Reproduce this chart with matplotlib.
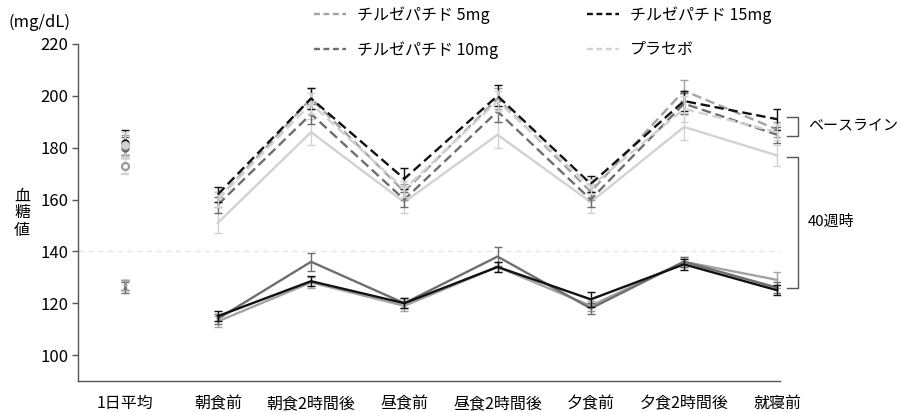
import matplotlib
matplotlib.use("Agg")
import matplotlib.pyplot as plt
from matplotlib.lines import Line2D
import numpy as np

plt.rcParams['font.family'] = ['Noto Sans CJK JP', 'DejaVu Sans']

categories = ['1日平均', '朝食前', '朝食2時間後', '昼食前', '昼食2時間後', '夕食前', '夕食2時間後', '就寝前']
series_names = ['チルゼパチド 5mg', 'チルゼパチド 10mg', 'チルゼパチド 15mg', 'プラセボ']
colors = ['#a3a3a3', '#6e6e6e', '#111111', '#d2d2d2']

# Baseline (dashed)
base_5 = [181, 160, 199, 163, 199, 163, 202, 187]
base_10 = [180, 158, 193, 160, 194, 160, 197, 185]
base_15 = [182, 162, 199, 168, 200, 166, 198, 191]
base_pl = [181, 160, 197, 164, 198, 165, 195, 186]
base_err_5 = [4, 3, 4, 3, 4, 3, 4, 3]
base_err_10 = [4, 3, 4, 3, 4, 3, 4, 3]
base_err_15 = [5, 3, 4, 4, 4, 3, 4, 4]
base_err_pl = [5, 3, 4, 3, 4, 3, 5, 3]

# Week 40 (solid)
wk40_5 = [127, 113, 128, 119, 134, 119, 136, 129]
wk40_10 = [126, 114, 136, 120, 138, 118, 136, 126]
wk40_15 = [127, 115, 128.5, 120, 134, 121.5, 135, 125]
wk40_pl = [173, 151, 186, 159, 185, 159, 188, 177]
wk40_err_5 = [2, 2, 2, 2, 2, 2, 2, 3]
wk40_err_10 = [2, 2, 3.5, 2, 3.5, 2, 2, 2]
wk40_err_15 = [2, 2, 2, 2, 2, 3, 2, 2]
wk40_err_pl = [3, 4, 5, 4, 5, 4, 5, 4]

baseline = [base_5, base_10, base_15, base_pl]
baseline_err = [base_err_5, base_err_10, base_err_15, base_err_pl]
week40 = [wk40_5, wk40_10, wk40_15, wk40_pl]
week40_err = [wk40_err_5, wk40_err_10, wk40_err_15, wk40_err_pl]

fig = plt.figure(figsize=(9.05, 4.12), dpi=100)
ax = fig.add_axes([78 / 905, 1 - 381 / 412, 702 / 905, 337 / 412])

x = np.arange(len(categories))
xl = x[1:]

ax.axhline(140, color='#e6e6e6', lw=1, ls=(0, (4, 3)), zorder=0)

# Week 40 solid lines
order = [3, 0, 1, 2]
for i in order:
    v = np.array(week40[i]); e = np.array(week40_err[i])
    ax.errorbar(xl, v[1:], yerr=e[1:], color=colors[i], lw=1.7, elinewidth=1,
                capsize=3, capthick=1, zorder=2 + i * 0.1)
# Baseline dashed lines
for i in order:
    v = np.array(baseline[i]); e = np.array(baseline_err[i])
    ax.errorbar(xl, v[1:], yerr=e[1:], color=colors[i], lw=1.7, ls=(0, (4, 2)),
                elinewidth=1, capsize=3, capthick=1, zorder=3 + i * 0.1)

# Daily mean points (lighter ones drawn on top)
for i in [2, 1, 0, 3]:
    v = baseline[i]; e = baseline_err[i]
    ax.errorbar([x[0]], [v[0]], yerr=[e[0]], color=colors[i], fmt='o', ms=5,
                elinewidth=1, capsize=3, capthick=1, zorder=4)
for i in [2, 1, 0, 3]:
    v = week40[i]; e = week40_err[i]
    if i == 3:
        ax.errorbar([x[0]], [v[0]], yerr=[e[0]], color='#9a9a9a', fmt='o', ms=5,
                    mfc='white', mec='#9a9a9a', mew=1.6, elinewidth=1, capsize=3,
                    capthick=1, ecolor=colors[i], zorder=4)
    else:
        ax.errorbar([x[0]], [v[0]], yerr=[e[0]], color=colors[i], fmt='o', ms=1.5,
                    elinewidth=1, capsize=3, capthick=1, zorder=4)

ax.set_xlim(-0.5, 7.03)
ax.set_ylim(90, 220)
ax.set_yticks([100, 120, 140, 160, 180, 200, 220])
ax.set_xticks(x)
ax.set_xticklabels(categories)
ax.tick_params(axis='x', length=0, pad=10, labelsize=11.5)
ax.tick_params(axis='y', length=4, width=1, color='#555555', labelsize=12, pad=3)
for s in ['top', 'right']:
    ax.spines[s].set_visible(False)
for s in ['left', 'bottom']:
    ax.spines[s].set_color('#555555')
    ax.spines[s].set_linewidth(1)

# Brackets computed from 就寝前 values
last_base = [b[-1] for b in baseline]
last_wk = [w[-1] for w in week40]
bx0, bx1, tx = 7.1, 7.225, 7.33
for lo, hi, label in [(min(last_base) - 0.5, max(last_base) + 1, 'ベースライン'),
                      (min(last_wk) + 1, max(last_wk) - 0.5, '40週時')]:
    ax.plot([bx0, bx1, bx1, bx0], [hi, hi, lo, lo], color='#555555', lw=1,
            clip_on=False)
    ax.text(tx, (lo + hi) / 2, label, ha='left', va='center', fontsize=10.8)

fig.text(9 / 905, 1 - 22 / 412, '(mg/dL)', ha='left', va='center', fontsize=12)
fig.text(22 / 905, 1 - 213 / 412, '血\n糖\n値', ha='center', va='center', fontsize=11.5,
         linespacing=1.0)

handles = [Line2D([], [], color=colors[i], lw=1.7, ls=(0, (2.5, 1.5))) for i in range(4)]
fig.legend(handles, series_names, loc='upper left', bbox_to_anchor=(300 / 905, 1.02),
           ncol=2, frameon=False, fontsize=11.5, handlelength=2.0, handletextpad=0.65,
           labelspacing=1.1, columnspacing=5.6)

fig.savefig('out.png', dpi=100)
